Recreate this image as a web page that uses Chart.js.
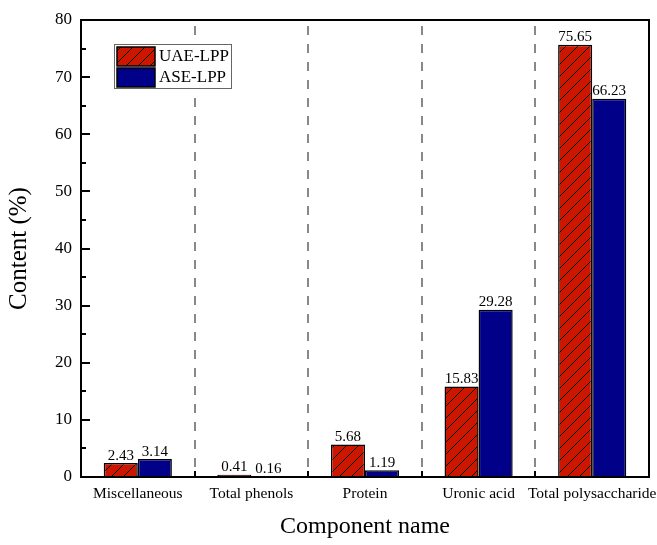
<!DOCTYPE html>
<html>
<head>
<meta charset="utf-8">
<script src="https://cdn.jsdelivr.net/npm/chart.js@4.4.2/dist/chart.umd.min.js"></script>
<style>
  html, body { margin: 0; padding: 0; background: #fff; }
  #wrap { width: 657px; height: 545px; }
</style>
</head>
<body>
<div id="wrap"><canvas id="chart" width="657" height="545"></canvas></div>
<script>
const components = ['Miscellaneous', 'Total phenols', 'Protein', 'Uronic acid', 'Total polysaccharide'];
const uaeValues = [2.43, 0.41, 5.68, 15.83, 75.65];
const aseValues = [3.14, 0.16, 1.19, 29.28, 66.23];
const seriesNames = ['UAE-LPP', 'ASE-LPP'];

const FONT = "'Liberation Serif', 'Times New Roman', serif";
const RED = '#cc1600';
const BLUE = '#000088';

// diagonal hatch fill for the UAE bars
function makeHatch() {
  const s = 12;
  const c = document.createElement('canvas');
  c.width = s; c.height = s;
  const g = c.getContext('2d');
  g.fillStyle = RED;
  g.fillRect(0, 0, s, s);
  g.strokeStyle = '#000';
  g.lineWidth = 1;
  g.beginPath();
  g.moveTo(0, s); g.lineTo(s, 0);
  g.moveTo(-s / 2, s / 2); g.lineTo(s / 2, -s / 2);
  g.moveTo(s / 2, s * 1.5); g.lineTo(s * 1.5, s / 2);
  g.stroke();
  return document.getElementById('chart').getContext('2d').createPattern(c, 'repeat');
}
const hatch = makeHatch();

const frame = {
  id: 'frame',
  beforeDatasetsDraw(chart) {
    const { ctx, chartArea: a, scales } = chart;
    ctx.save();
    // dashed separators between components
    ctx.strokeStyle = '#888';
    ctx.lineWidth = 2;
    ctx.setLineDash([9, 9]);
    for (let i = 0; i < components.length - 1; i++) {
      const x = Math.round(scales.x.getPixelForValue(i + 0.5));
      ctx.beginPath();
      ctx.moveTo(x, a.top + 6);
      ctx.lineTo(x, a.bottom);
      ctx.stroke();
    }
    ctx.restore();
  },
  afterDatasetsDraw(chart) {
    const { ctx, chartArea: a, scales } = chart;
    ctx.save();
    // frame
    ctx.strokeStyle = '#000';
    ctx.lineWidth = 2;
    ctx.strokeRect(a.left, a.top, a.right - a.left, a.bottom - a.top);
    // inward ticks on y axis
    for (let v = 0; v <= 80; v += 5) {
      const y = Math.round(scales.y.getPixelForValue(v));
      const len = v % 10 === 0 ? 9 : 5;
      ctx.beginPath();
      ctx.moveTo(a.left, y);
      ctx.lineTo(a.left + len, y);
      ctx.stroke();
    }
    // inward ticks on x axis at group boundaries
    for (let i = 0; i < components.length - 1; i++) {
      const x = Math.round(scales.x.getPixelForValue(i + 0.5));
      ctx.beginPath();
      ctx.moveTo(x, a.bottom);
      ctx.lineTo(x, a.bottom - 6);
      ctx.stroke();
    }
    // value labels
    ctx.fillStyle = '#000';
    ctx.font = '15px ' + FONT;
    ctx.textAlign = 'center';
    ctx.textBaseline = 'bottom';
    chart.data.datasets.forEach((ds, di) => {
      chart.getDatasetMeta(di).data.forEach((bar, i) => {
        ctx.fillText(ds.data[i].toFixed(2), bar.x, bar.y);
      });
    });
    // legend
    const lx = 114, ly = 44;
    ctx.fillStyle = '#fff';
    ctx.fillRect(lx, ly, 117, 44);
    ctx.strokeStyle = '#666';
    ctx.lineWidth = 1;
    ctx.strokeRect(lx + 0.5, ly + 0.5, 117, 44);
    const fills = [hatch, BLUE];
    seriesNames.forEach((name, k) => {
      const y = ly + 3 + k * 21;
      ctx.fillStyle = fills[k];
      ctx.fillRect(lx + 3, y, 38, 19);
      ctx.strokeStyle = '#000';
      ctx.lineWidth = 1.5;
      ctx.strokeRect(lx + 3, y, 38, 19);
      ctx.fillStyle = '#000';
      ctx.font = '17px ' + FONT;
      ctx.textAlign = 'left';
      ctx.textBaseline = 'middle';
      ctx.fillText(name, lx + 45, y + 10);
    });
    ctx.restore();
  }
};

new Chart(document.getElementById('chart'), {
  type: 'bar',
  data: {
    labels: components,
    datasets: [
      { label: seriesNames[0], data: uaeValues, backgroundColor: hatch, borderColor: '#000', borderWidth: 1.5 },
      { label: seriesNames[1], data: aseValues, backgroundColor: BLUE, borderColor: '#000', borderWidth: 1.5 }
    ]
  },
  options: {
    responsive: false,
    animation: false,
    layout: { padding: { top: 20, right: 8, left: 0, bottom: 0 } },
    datasets: { bar: { categoryPercentage: 0.6, barPercentage: 1 } },
    plugins: { legend: { display: false }, tooltip: { enabled: false } },
    scales: {
      x: {
        grid: { display: false, drawTicks: false },
        border: { display: false },
        ticks: { color: '#000', font: { family: FONT, size: 15.5 }, padding: 8, maxRotation: 0, autoSkip: false },
        title: { display: true, text: 'Component name', color: '#000', font: { family: FONT, size: 24 }, padding: { top: 8 } },
        afterFit(s) { s.height = 68; s.paddingLeft = 0; s.paddingRight = 0; }
      },
      y: {
        min: 0, max: 80,
        grid: { display: false, drawTicks: false },
        border: { display: false },
        ticks: { stepSize: 10, color: '#000', font: { family: FONT, size: 17 }, padding: 9 },
        title: { display: true, text: 'Content (%)', color: '#000', font: { family: FONT, size: 25 }, padding: { bottom: 4 } },
        afterFit(s) { s.width = 81; s.paddingTop = 0; s.paddingBottom = 0; }
      }
    }
  },
  plugins: [frame]
});
</script>
</body>
</html>
